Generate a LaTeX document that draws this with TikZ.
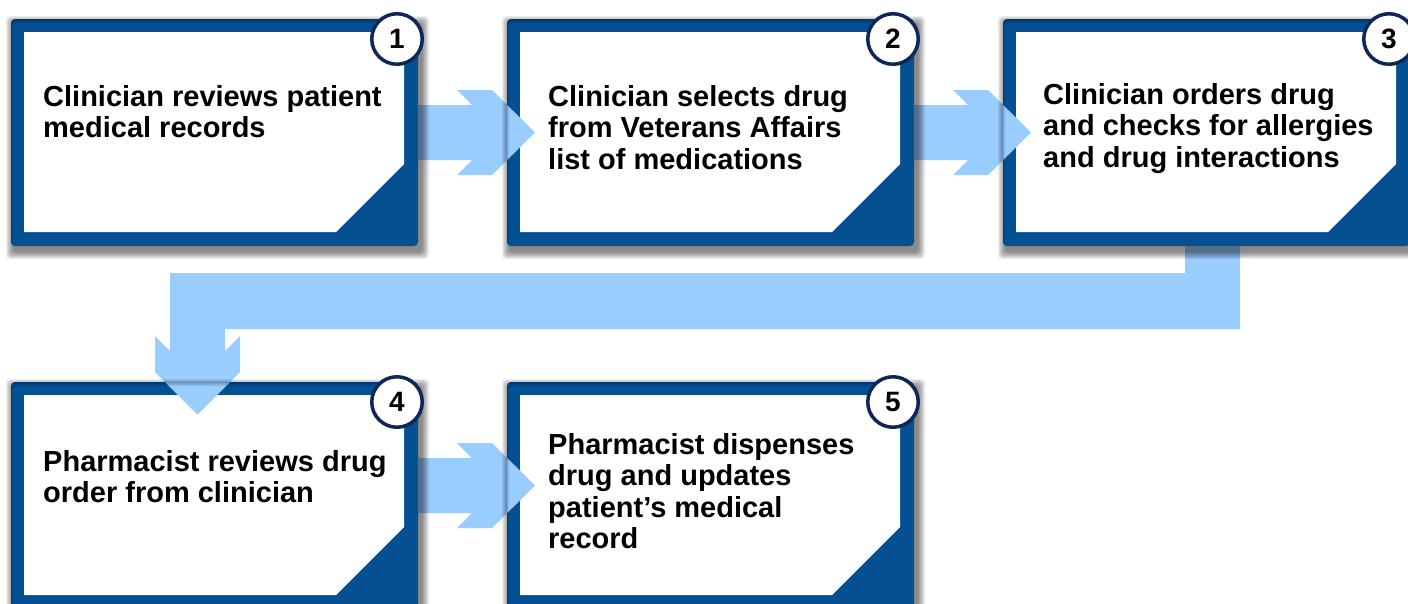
\documentclass[tikz,border=0pt]{standalone}
\usepackage{fontspec}
\setmainfont{Liberation Sans}
\usetikzlibrary{calc}
\definecolor{navy}{RGB}{5,80,147}
\definecolor{arrowblue}{RGB}{153,204,255}
\definecolor{ringnavy}{RGB}{12,40,88}
\tikzset{
  cardframe/.style={rectangle, fill=navy, rounded corners=4pt, minimum width=407pt, minimum height=227pt, inner sep=0pt},
  cardtext/.style={anchor=north west, align=left, inner sep=0pt, font=\fontsize{29}{31.5}\selectfont\bfseries},
  numring/.style={circle, draw=ringnavy, line width=3.5pt, fill=white, minimum size=50.5pt, inner sep=0pt, font=\fontsize{28}{28}\selectfont\bfseries},
  blockarrow/.style={fill=arrowblue}
}
% #1 name, #2 L, #3 T
\newcommand\cardbody[3]{%
  \node[cardframe] (#1) at ({#2+203.5},{#3+113.5}) {};
  \fill[white] ({#2+13},{#3+13}) -- ({#2+393},{#3+13}) -- ({#2+393},{#3+145})
     -- ({#2+325},{#3+213}) -- ({#2+13},{#3+213}) -- cycle;
}
\newcommand\cardshadow[2]{%
  \foreach \k in {1,...,8}{%
    \fill[black, opacity=0.07, even odd rule, rounded corners=4pt]
      ({#1+3-\k},{#2+5-\k}) rectangle ({#1+410+\k},{#2+232+\k})
      ({#1},{#2}) rectangle ({#1+407},{#2+227});
  }%
}
\begin{document}
\begin{tikzpicture}[x=1pt,y=-1pt]
\useasboundingbox (0,0) rectangle (1408,603);
\clip (0,0) rectangle (1408,603);
\fill[white] (0,0) rectangle (1408,603);

% card bodies
\cardbody{b1}{11}{19}
\cardbody{b2}{507}{19}
\cardbody{b3}{1003}{19}
\cardbody{b4}{11}{382}
\cardbody{b5}{507}{382}

% block arrows
\fill[blockarrow] (b1.east |- 0,105) -- (472,105) -- (457,90) -- (492,90) -- (535,132.5)
   -- (492,175) -- (457,175) -- (472,160) -- (b1.east |- 0,160) -- cycle;
\fill[blockarrow] (b2.east |- 0,105) -- (968,105) -- (953,90) -- (988,90) -- (1031,132.5)
   -- (988,175) -- (953,175) -- (968,160) -- (b2.east |- 0,160) -- cycle;
\fill[blockarrow] (b4.east |- 0,458) -- (472,458) -- (457,443) -- (492,443) -- (535,485.5)
   -- (492,528) -- (457,528) -- (472,513) -- (b4.east |- 0,513) -- cycle;
\fill[blockarrow] (1185,0 |- b3.south) -- (1240,0 |- b3.south) -- (1240,329) -- (225,329) -- (225,351)
   -- (240,336) -- (240,372) -- (197.5,414.5) -- (155,372) -- (155,336)
   -- (170,351) -- (170,273) -- (1185,273) -- cycle;

% shadows
\cardshadow{11}{19}
\cardshadow{507}{19}
\cardshadow{1003}{19}
\cardshadow{11}{382}
\cardshadow{507}{382}

% number rings
\node[numring] (n1) at (397,39) {1};
\node[numring] (n2) at (893,39) {2};
\node[numring] (n3) at (1389,39) {3};
\node[numring] (n4) at (397,402) {4};
\node[numring] (n5) at (893,402) {5};

% texts
\node[cardtext] (t1) at (43,85) {Clinician reviews patient\\medical records};
\node[cardtext] (t2) at (548,85) {Clinician selects drug\\from Veterans Affairs\\list of medications};
\node[cardtext] (t3) at (1043,83) {Clinician orders drug\\and checks for allergies\\and drug interactions};
\node[cardtext] (t4) at (43,450) {Pharmacist reviews drug\\order from clinician};
\node[cardtext] (t5) at (548,433) {Pharmacist dispenses\\drug and updates\\patient’s medical\\record};
\end{tikzpicture}
\end{document}
